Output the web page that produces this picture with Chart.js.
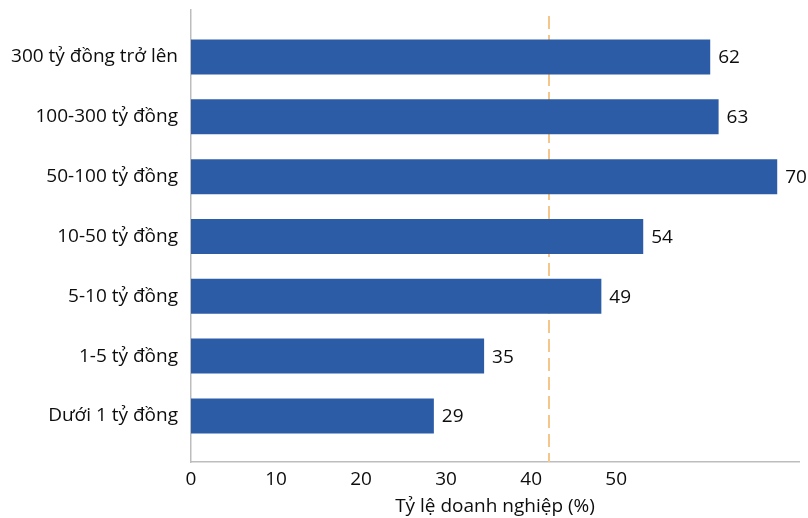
<!DOCTYPE html>
<html>
<head>
<meta charset="utf-8">
<script src="https://cdn.jsdelivr.net/npm/chart.js@4"></script>
<style>
  body { margin: 0; background: #fff; }
  #wrap { width: 808px; height: 518px; position: relative; }
</style>
</head>
<body>
<div id="wrap"><canvas id="myChart"></canvas></div>
<script>
'use strict';

// quy mô doanh thu, từ trên xuống
const categories = ['300 tỷ đồng trở lên', '100-300 tỷ đồng', '50-100 tỷ đồng', '10-50 tỷ đồng', '5-10 tỷ đồng', '1-5 tỷ đồng', 'Dưới 1 tỷ đồng'];
const values = [62, 63, 70, 54, 49, 35, 29];
const xTicks = [0, 10, 20, 30, 40, 50];
const average = 42;

const FONT = "'Open Sans', 'Noto Sans', sans-serif";
const SIZE = 19;
const TEXT = '#0d0d0d';

// bars sit on a linear index axis so the top/bottom gaps can be set by min/max
const points = [];
for (let i = 0; i < values.length; i++) {
  points.push({ x: values[i], y: i });
}

// value at the end of each bar
const barLabels = {
  id: 'barLabels',
  afterDatasetsDraw(chart) {
    const ctx = chart.ctx;
    const meta = chart.getDatasetMeta(0);
    ctx.save();
    ctx.font = SIZE + 'px ' + FONT;
    ctx.fillStyle = TEXT;
    ctx.textAlign = 'left';
    ctx.textBaseline = 'middle';
    meta.data.forEach(function (bar, i) {
      ctx.fillText(values[i], bar.x + 8, bar.y + 1);
    });
    ctx.restore();
  }
};

// dashed average line, behind the bars
const avgLine = {
  id: 'avgLine',
  beforeDatasetsDraw(chart) {
    const ctx = chart.ctx;
    const x = Math.round(chart.scales.x2.getPixelForValue(average)) + 1;
    const area = chart.chartArea;
    ctx.save();
    ctx.strokeStyle = '#f5c68a';
    ctx.lineWidth = 2;
    ctx.setLineDash([13, 6]);
    ctx.beginPath();
    ctx.moveTo(x, area.top + 6);
    ctx.lineTo(x, area.bottom);
    ctx.stroke();
    ctx.restore();
  }
};

const data = {
  datasets: [{
    data: points,
    backgroundColor: '#2d5ca6',
    borderWidth: 0,
    categoryPercentage: 1,
    barPercentage: 0.585,
    xAxisID: 'x',
    yAxisID: 'y'
  }]
};

const config = {
  type: 'bar',
  data: data,
  options: {
    indexAxis: 'y',
    responsive: true,
    maintainAspectRatio: false,
    animation: false,
    layout: { padding: { top: 10, right: 9, left: 0, bottom: 0 } },
    plugins: {
      legend: { display: false },
      tooltip: { enabled: false }
    },
    scales: {
      y: {
        type: 'linear',
        reverse: true,
        offset: false,
        min: -0.786,
        max: 6.77,
        afterBuildTicks: function (scale) {
          scale.ticks = categories.map(function (c, i) { return { value: i }; });
        },
        afterFit: function (scale) {
          scale.width = 191;
          scale.paddingTop = 0;
          scale.paddingBottom = 0;
        },
        grid: { display: false, drawTicks: false, offset: false },
        border: { display: true, color: '#bdbdbd', width: 1.5 },
        ticks: {
          padding: 13,
          color: TEXT,
          font: { family: FONT, size: SIZE },
          callback: function (v) { return categories[v]; }
        }
      },
      x: {
        type: 'linear',
        position: 'bottom',
        min: 0,
        max: 72.6,
        afterFit: function (scale) { scale.height = 0; },
        grid: { display: false, drawTicks: false },
        border: { display: true, color: '#bdbdbd', width: 1.5 },
        ticks: { display: false }
      },
      x2: {
        type: 'linear',
        position: 'bottom',
        min: 0,
        max: 71.5,
        afterBuildTicks: function (scale) {
          scale.ticks = xTicks.map(function (v) { return { value: v }; });
        },
        afterFit: function (scale) {
          scale.height = 56;
          scale.paddingLeft = 0;
          scale.paddingRight = 0;
        },
        grid: { display: false, drawTicks: false },
        border: { display: false },
        ticks: {
          padding: 6,
          maxRotation: 0,
          color: TEXT,
          font: { family: FONT, size: SIZE }
        },
        title: {
          display: true,
          text: 'Tỷ lệ doanh nghiệp (%)',
          color: TEXT,
          font: { family: FONT, size: SIZE },
          padding: { top: 0, bottom: 0 }
        }
      }
    }
  },
  plugins: [avgLine, barLabels]
};

const myChart = new Chart(document.getElementById('myChart'), config);
</script>
</body>
</html>
